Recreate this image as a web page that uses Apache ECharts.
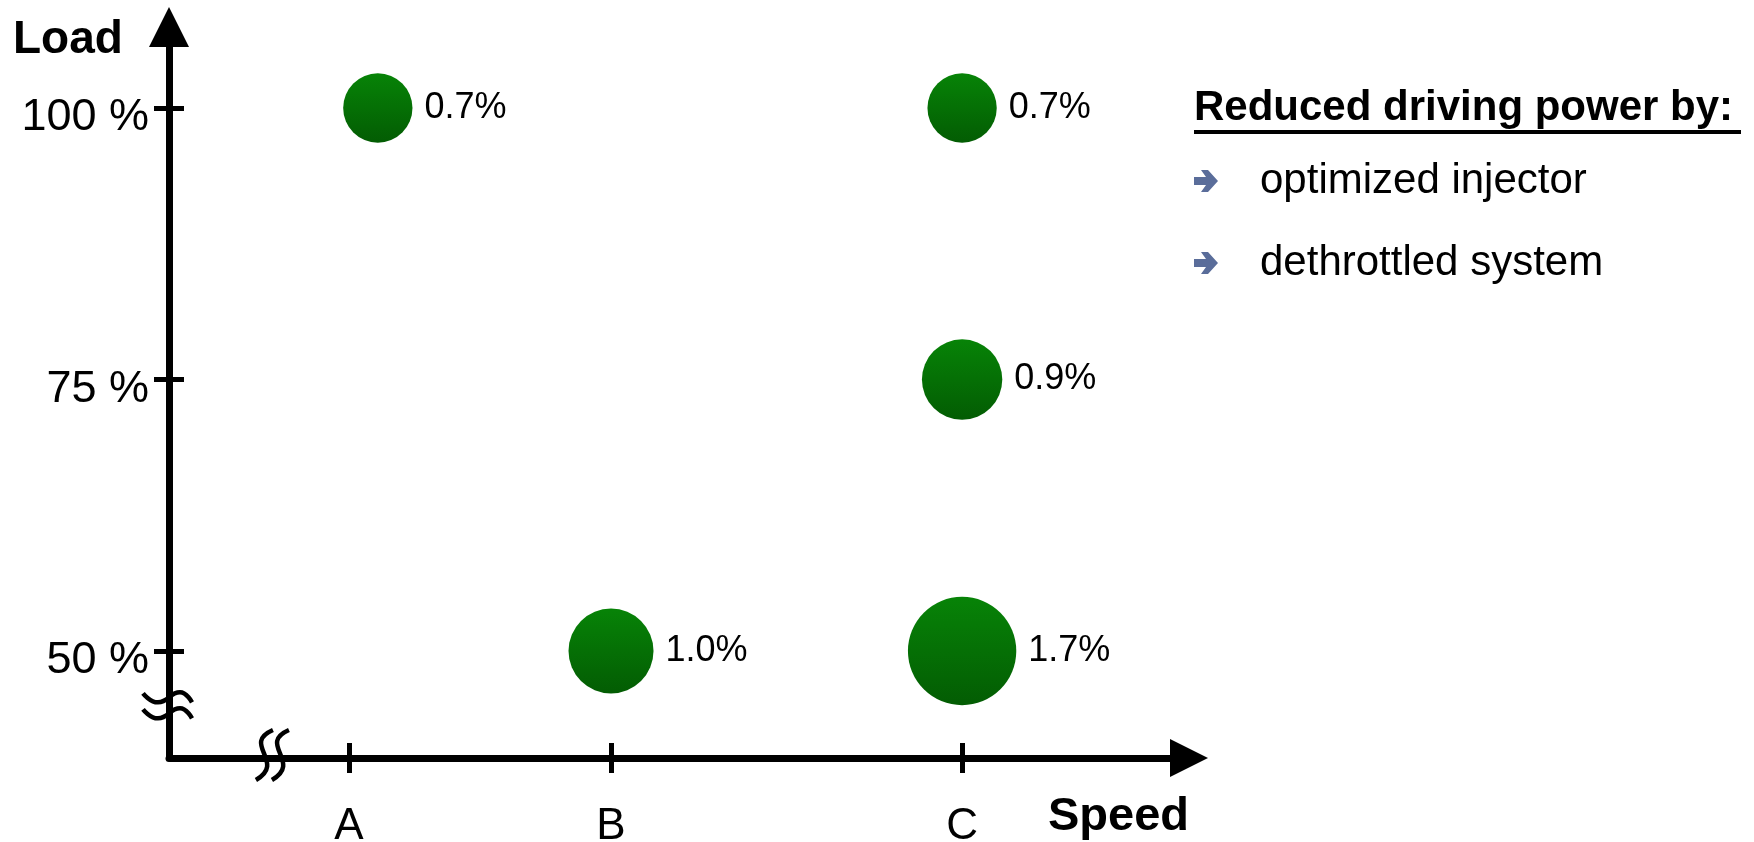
<!DOCTYPE html>
<html>
<head>
<meta charset="utf-8">
<script src="https://cdn.jsdelivr.net/npm/echarts@6.0.0/dist/echarts.min.js"></script>
<style>
  html, body { margin: 0; padding: 0; background: #fff; }
  #chart { width: 1754px; height: 842px; }
</style>
</head>
<body>
<div id="chart"></div>
<script>
// axis ticks
var speedTickValues = [1, 2, 3.34];
var speedTickLabels = ['A', 'B', 'C'];
var loadTickValues = [50, 75, 100];

// operating points: speed, load, saving in %
var pointSpeed = [1.11, 3.34, 3.34, 2.0, 3.34];
var pointLoad = [100, 100, 75, 50, 50];
var pointSaving = [0.7, 0.7, 0.9, 1.0, 1.7];

// legend box
var legendTitle = 'Reduced driving power by:';
var legendItems = ['optimized injector', 'dethrottled system'];

var speedMin = 0.313, speedMax = 4.206;
var loadMin = 40.15, loadMax = 107.46;
var speedBreak = 0.702, loadBreak = 45.0;

var FONT = '"Liberation Sans", Arial, sans-serif';

var points = pointSpeed.map(function (s, i) {
  return [s, pointLoad[i], pointSaving[i]];
});

function speedLabel(v) {
  var best = 0;
  speedTickValues.forEach(function (t, i) {
    if (Math.abs(t - v) < Math.abs(speedTickValues[best] - v)) best = i;
  });
  return speedTickLabels[best];
}

var chart = echarts.init(document.getElementById('chart'));

var tickStyle = { color: '#000', width: 5 };

var option = {
  animation: false,
  backgroundColor: '#fff',
  grid: { left: 169, top: 27, right: 565, bottom: 84, containLabel: false, outerBoundsMode: 'none' },
  xAxis: [{
    type: 'value',
    min: speedMin,
    max: speedMax,
    position: 'bottom',
    axisLine: {
      show: true, onZero: false,
      lineStyle: { color: '#000', width: 7 },
      symbol: ['none', 'triangle'],
      symbolSize: [38, 38]
    },
    axisTick: { show: true, length: 15, customValues: speedTickValues, lineStyle: tickStyle },
    axisLabel: {
      customValues: speedTickValues,
      formatter: speedLabel,
      fontSize: 44, fontFamily: FONT, color: '#000', margin: 47
    },
    splitLine: { show: false }
  }, {
    type: 'value',
    min: speedMin,
    max: speedMax,
    position: 'bottom',
    axisLine: { show: false },
    axisTick: { show: true, inside: true, length: 15, customValues: speedTickValues, lineStyle: tickStyle },
    axisLabel: { show: false },
    splitLine: { show: false }
  }],
  yAxis: [{
    type: 'value',
    min: loadMin,
    max: loadMax,
    position: 'left',
    axisLine: {
      show: true, onZero: false,
      lineStyle: { color: '#000', width: 7 },
      symbol: ['none', 'triangle'],
      symbolSize: [40, 40]
    },
    axisTick: { show: true, length: 15, customValues: loadTickValues, lineStyle: tickStyle },
    axisLabel: {
      customValues: loadTickValues,
      formatter: function (v) { return v + ' %'; },
      fontSize: 45, fontFamily: FONT, color: '#000', margin: 20,
      verticalAlign: 'top', lineHeight: 20
    },
    splitLine: { show: false }
  }, {
    type: 'value',
    min: loadMin,
    max: loadMax,
    position: 'left',
    axisLine: { show: false },
    axisTick: { show: true, inside: true, length: 15, customValues: loadTickValues, lineStyle: tickStyle },
    axisLabel: { show: false },
    splitLine: { show: false }
  }],
  series: [{
    type: 'scatter',
    xAxisIndex: 0,
    yAxisIndex: 0,
    data: points,
    symbol: 'circle',
    symbolSize: function (val) { return 85 + 44 * Math.log(val[2]); },
    itemStyle: {
      color: new echarts.graphic.LinearGradient(0, 0, 0, 1, [
        { offset: 0, color: '#078307' },
        { offset: 1, color: '#035c03' }
      ]),
      opacity: 1
    },
    label: {
      show: true,
      position: 'right',
      distance: 12,
      formatter: function (p) { return p.value[2].toFixed(1) + '%'; },
      fontSize: 36,
      fontFamily: FONT,
      color: '#000'
    }
  }]
};

chart.setOption(option);

// texts, legend box and axis break marks
function txt(s, x, y, font, align, fill) {
  return {
    type: 'text', x: x, y: y, z: 100,
    style: { text: s, font: font, fill: fill || '#000', lineWidth: 0,
      align: align, verticalAlign: 'middle', textAlign: align, textVerticalAlign: 'middle' }
  };
}

var graphics = [
  txt('Load', 13, 40, 'bold 46px ' + FONT, 'left'),
  txt('Speed', 1189, 817, 'bold 47px ' + FONT, 'right'),
  txt(legendTitle, 1194, 108, 'bold 42px ' + FONT, 'left'),
  {
    type: 'line', z: 100,
    shape: { x1: 1194, y1: 132, x2: 1741, y2: 132 },
    style: { stroke: '#000', lineWidth: 4 }
  }
];

legendItems.forEach(function (item, i) {
  var y = 181 + i * 82;
  graphics.push({
    type: 'polygon', x: 1194, y: y, z: 100,
    shape: { points: [[0, -4], [12, -4], [7, -11], [14, -11], [24, 0], [14, 11], [7, 11], [12, 4], [0, 4]] },
    style: { fill: '#5a6d9a' }
  });
  graphics.push(txt(item, 1260, y, '42px ' + FONT, 'left'));
});

var axisX = chart.convertToPixel({ xAxisIndex: 0 }, speedMin);
var axisY = chart.convertToPixel({ yAxisIndex: 0 }, loadMin);
var breakY = chart.convertToPixel({ yAxisIndex: 0 }, loadBreak);
var breakX = chart.convertToPixel({ xAxisIndex: 0 }, speedBreak);

var curveStyle = { stroke: '#000', lineWidth: 4.5, fill: null };

function wave(pts) {
  return { type: 'polyline', shape: { points: pts, smooth: 0.5 }, style: curveStyle };
}

function sCurve(dx) {
  return {
    type: 'bezierCurve',
    shape: { x1: dx + 2, y1: -28, cpx1: dx - 30, cpy1: -14, cpx2: dx + 16, cpy2: 4, x2: dx - 15, y2: 22 },
    style: curveStyle
  };
}

graphics.push({
  type: 'group', x: axisX, y: breakY, z: 100,
  children: [
    { type: 'rect', shape: { x: -7, y: -6, width: 14, height: 14 }, style: { fill: '#fff' } },
    wave([[-26, -12], [-11, -3], [11, -13], [23, -3]]),
    wave([[-26, 4], [-11, 13], [11, 3], [23, 13]])
  ]
});
graphics.push({
  type: 'group', x: breakX, y: axisY, z: 100,
  children: [
    { type: 'rect', shape: { x: -8, y: -6, width: 16, height: 12 }, style: { fill: '#fff' } },
    sCurve(0),
    sCurve(16)
  ]
});

chart.setOption({ graphic: graphics });
</script>
</body>
</html>
